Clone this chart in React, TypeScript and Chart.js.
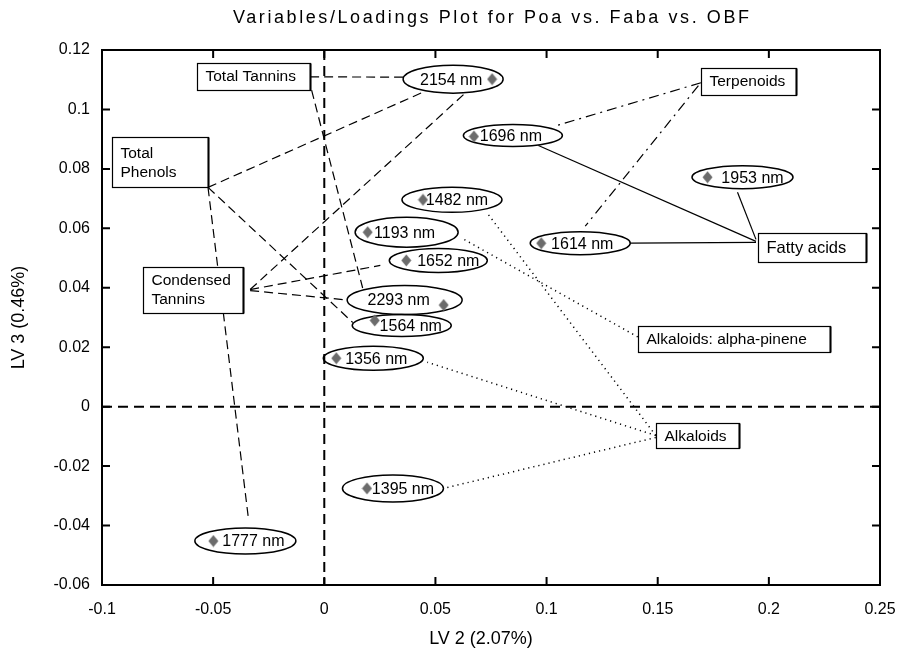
import React, { useEffect, useRef } from "react";
import { Chart, registerables } from "chart.js";

Chart.register(...registerables);

// ---- data ----
const wavelengths = ["2154 nm", "1696 nm", "1482 nm", "1193 nm", "1652 nm", "2293 nm", "1564 nm", "1356 nm", "1614 nm", "1953 nm", "1395 nm", "1777 nm"];
const lv2 = [0.0755, 0.0673, 0.0444, 0.0195, 0.0369, 0.0537, 0.0227, 0.0054, 0.0976, 0.1724, 0.0192, -0.0499];
const lv3 = [0.1102, 0.0909, 0.0696, 0.0587, 0.0492, 0.0342, 0.029, 0.0163, 0.055, 0.0772, -0.0275, -0.0452];

const groups = ["Total Tannins", "Total\nPhenols", "Condensed\nTannins", "Terpenoids", "Fatty acids", "Alkaloids: alpha-pinene", "Alkaloids"];
const groupLV2 = [-0.0318, -0.0739, -0.059, 0.1908, 0.2194, 0.1842, 0.1678];
const groupLV3 = [0.1112, 0.0822, 0.0394, 0.1095, 0.0536, 0.0228, -0.0097];

const xTicks = [-0.1, -0.05, 0, 0.05, 0.1, 0.15, 0.2, 0.25];
const yTicks = [-0.06, -0.04, -0.02, 0, 0.02, 0.04, 0.06, 0.08, 0.1, 0.12];

const chartTitle = "Variables/Loadings Plot for Poa vs. Faba vs. OBF";
const xTitle = "LV 2 (2.07%)";
const yTitle = "LV 3 (0.46%)";

// ---- label layout (pixels, relative to the point) ----
const ellDx = [-39, 39, 29, 39, 32, -39, 27, 37, 39, 35, 26, 32];
const ellDy = [0, -1, 0, 0, 0, -5, 5, 0, 0, 0, 0, 0];
const ellW = [100, 99, 100, 103, 98, 115, 99, 100, 100, 101, 101, 101];
const ellH = [28, 22, 25, 30, 24, 29, 22, 24, 23, 23, 27, 26];
const txtDx = [-2, -2, 5, -2, 10, -6, 9, 3, 2, 10, 10, 8];

const boxW = [113, 96, 100, 95, 108, 192, 83];
const boxH = [27, 50, 46, 27, 29, 26, 25];
const boxFont = [15.5, 15.5, 15.5, 15.5, 16.5, 15.5, 15.5];

// connectors: [group, boxDx, boxDy, point, ellDx, ellDy, style]
type Conn = [number, number, number, number, number, number, string];
const connectors: Conn[] = [
  [0, 56.5, 0.7, 0, -50, -2, "dash"],
  [0, 58, 14, 5, -42, -12, "dash"],
  [1, 48, 25, 0, -30, 13, "dash"],
  [1, 48, 25, 6, -49, -3, "dash"],
  [1, 48, 25, 11, 3, -23, "dash"],
  [2, 57, 0, 0, 12, 14, "dash"],
  [2, 57, 0, 4, -58, 5, "dash"],
  [2, 57, 1, 5, -57, 0, "dash"],
  [3, -47.5, 1.5, 1, 44, -10, "dashdot"],
  [3, -50, 4.5, 8, 5, -17, "dashdot"],
  [4, -56, -6, 1, 25.5, 10, "solid"],
  [4, -56, -5, 8, 50, 0, "solid"],
  [4, -56, -8, 9, -5, 15, "solid"],
  [5, -96, -2, 3, 57, 7, "dot"],
  [6, -41.5, 0, 2, 35, 13, "dot"],
  [6, -41.5, 0, 7, 54, 4, "dot"],
  [6, -41.5, 2, 10, 50.5, 0, "dot"],
];

const FONT = "'Liberation Sans', Arial, sans-serif";
const fmt = (v: number) => (Math.round(v * 1000) / 1000).toString();

function makeDiamond(): HTMLCanvasElement {
  const c = document.createElement("canvas");
  c.width = 11;
  c.height = 13;
  const g = c.getContext("2d")!;
  g.fillStyle = "#6c6c6c";
  g.beginPath();
  g.moveTo(5.5, 0.5);
  g.lineTo(10.5, 6.5);
  g.lineTo(5.5, 12.5);
  g.lineTo(0.5, 6.5);
  g.closePath();
  g.fill();
  return c;
}

const overlay = {
  id: "overlay",
  beforeDatasetsDraw(chart: any) {
    const { ctx, chartArea: a, scales } = chart;
    const xs = scales.x, ys = scales.y;
    const line = (x1: number, y1: number, x2: number, y2: number) => {
      ctx.beginPath();
      ctx.moveTo(x1, y1);
      ctx.lineTo(x2, y2);
      ctx.stroke();
    };
    ctx.save();
    ctx.strokeStyle = "#000";
    // zero lines
    ctx.lineWidth = 2;
    ctx.setLineDash([10, 6]);
    const x0 = xs.getPixelForValue(0), y0 = ys.getPixelForValue(0);
    line(a.left, y0, a.right, y0);
    line(x0, a.top, x0, a.bottom);

    const ptX = (i: number) => xs.getPixelForValue(lv2[i]);
    const ptY = (i: number) => ys.getPixelForValue(lv3[i]);
    const ecx = (i: number) => ptX(i) + ellDx[i];
    const ecy = (i: number) => ptY(i) + ellDy[i];
    const bcx = (g: number) => xs.getPixelForValue(groupLV2[g]);
    const bcy = (g: number) => ys.getPixelForValue(groupLV3[g]);

    // connectors
    for (const c of connectors) {
      const [g, bdx, bdy, p, edx, edy, style] = c;
      ctx.lineCap = "butt";
      if (style === "dash") { ctx.setLineDash([9, 5]); ctx.lineWidth = 1.2; }
      else if (style === "dashdot") { ctx.setLineDash([10, 5, 2, 5]); ctx.lineWidth = 1.2; }
      else if (style === "dot") { ctx.setLineDash([1.2, 4]); ctx.lineWidth = 1.5; }
      else { ctx.setLineDash([]); ctx.lineWidth = 1.2; }
      line(bcx(g) + bdx, bcy(g) + bdy, ecx(p) + edx, ecy(p) + edy);
    }
    ctx.setLineDash([]);

    // boxes
    for (let g = 0; g < groups.length; g++) {
      const w = boxW[g], h = boxH[g];
      const l = Math.round(bcx(g) - w / 2) + 0.5, t = Math.round(bcy(g) - h / 2) + 0.5;
      ctx.fillStyle = "#fff";
      ctx.fillRect(l, t, w, h);
      ctx.lineWidth = 1.2;
      ctx.strokeStyle = "#000";
      ctx.strokeRect(l, t, w, h);
      ctx.lineWidth = 2;
      line(l + w, t, l + w, t + h);
      ctx.fillStyle = "#000";
      ctx.font = `${boxFont[g]}px ${FONT}`;
      ctx.textAlign = "left";
      ctx.textBaseline = "middle";
      const lines = groups[g].split("\n");
      const lh = 19;
      const cy = bcy(g);
      lines.forEach((s, k) => {
        ctx.fillText(s, l + 8, cy + 1 + (k - (lines.length - 1) / 2) * lh);
      });
    }

    // ellipses
    for (let i = 0; i < lv2.length; i++) {
      ctx.lineWidth = 1.5;
      ctx.strokeStyle = "#000";
      ctx.beginPath();
      ctx.ellipse(ecx(i), ecy(i), ellW[i] / 2, ellH[i] / 2, 0, 0, Math.PI * 2);
      ctx.stroke();
      ctx.fillStyle = "#000";
      ctx.font = `16px ${FONT}`;
      ctx.textAlign = "center";
      ctx.textBaseline = "middle";
      ctx.fillText(wavelengths[i], ecx(i) + txtDx[i], ecy(i) + 1);
    }
    ctx.restore();
  },
  afterDatasetsDraw(chart: any) {
    const { ctx, chartArea: a, scales } = chart;
    const xs = scales.x, ys = scales.y;
    ctx.save();
    ctx.strokeStyle = "#000";
    ctx.lineWidth = 2;
    ctx.setLineDash([]);
    ctx.strokeRect(a.left, a.top, a.right - a.left, a.bottom - a.top);
    const tl = 8;
    ctx.beginPath();
    for (const v of xTicks) {
      const px = xs.getPixelForValue(v);
      ctx.moveTo(px, a.bottom); ctx.lineTo(px, a.bottom - tl);
      ctx.moveTo(px, a.top); ctx.lineTo(px, a.top + tl);
    }
    for (const v of yTicks) {
      const py = ys.getPixelForValue(v);
      ctx.moveTo(a.left, py); ctx.lineTo(a.left + tl, py);
      ctx.moveTo(a.right, py); ctx.lineTo(a.right - tl, py);
    }
    ctx.stroke();

    // titles
    ctx.fillStyle = "#000";
    ctx.textAlign = "center";
    ctx.textBaseline = "middle";
    const cx = (a.left + a.right) / 2;
    ctx.font = `18px ${FONT}`;
    const plain = ctx.measureText(chartTitle).width;
    const spacing = Math.max(0, (516 - plain) / (chartTitle.length - 1));
    (ctx as any).letterSpacing = `${spacing}px`;
    ctx.fillText(chartTitle, cx + spacing / 2, 18);
    (ctx as any).letterSpacing = "0px";
    ctx.font = `18px ${FONT}`;
    ctx.fillText(xTitle, cx - 10, 639);
    ctx.save();
    ctx.translate(19, (a.top + a.bottom) / 2);
    ctx.rotate(-Math.PI / 2);
    ctx.fillText(yTitle, 0, 0);
    ctx.restore();
    ctx.restore();
  },
};

export default function App() {
  const ref = useRef<HTMLCanvasElement>(null);
  useEffect(() => {
    const diamond = makeDiamond();
    const chart = new Chart(ref.current!, {
      type: "scatter",
      data: {
        datasets: [
          {
            label: "loadings",
            data: lv2.map((x, i) => ({ x, y: lv3[i] })),
            pointStyle: diamond as any,
            pointRadius: 6,
            backgroundColor: "#6c6c6c",
            borderColor: "#6c6c6c",
          },
        ],
      },
      options: {
        responsive: false,
        animation: false,
        layout: { padding: { left: 0, right: 17, top: 50, bottom: 0 } },
        plugins: {
          legend: { display: false },
          tooltip: { enabled: false },
          title: { display: false },
        },
        scales: {
          x: {
            type: "linear",
            min: -0.1,
            max: 0.25,
            afterBuildTicks: (s: any) => { s.ticks = xTicks.map((v) => ({ value: v })); },
            afterFit: (s: any) => { s.height = 65; s.paddingLeft = 0; s.paddingRight = 0; },
            grid: { display: false, drawTicks: false },
            border: { display: false },
            ticks: { color: "#000", font: { family: FONT, size: 16 }, padding: 15, maxRotation: 0, autoSkip: false, callback: (v: any) => fmt(Number(v)) },
            title: { display: false },
          },
          y: {
            type: "linear",
            min: -0.06,
            max: 0.12,
            afterBuildTicks: (s: any) => { s.ticks = yTicks.map((v) => ({ value: v })); },
            afterFit: (s: any) => { s.width = 102; s.paddingTop = 0; s.paddingBottom = 0; },
            grid: { display: false, drawTicks: false },
            border: { display: false },
            ticks: { color: "#000", font: { family: FONT, size: 16 }, padding: 12, autoSkip: false, callback: (v: any) => fmt(Number(v)) },
            title: { display: false },
          },
        },
      },
      plugins: [overlay],
    });
    return () => chart.destroy();
  }, []);
  return (
    <div style={{ position: "absolute", left: 0, top: 0, width: 897, height: 650, background: "#fff" }}>
      <canvas ref={ref} width={897} height={650} style={{ display: "block" }} />
    </div>
  );
}
